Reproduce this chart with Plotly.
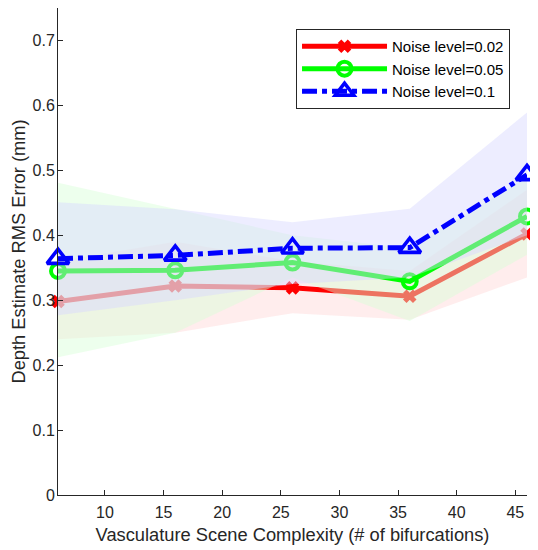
import plotly.graph_objects as go

# ---- data ----
bifurcations = [6, 16, 26, 36, 46]

rms_noise_002 = [0.298, 0.322, 0.319, 0.306, 0.402]
rms_noise_005 = [0.345, 0.346, 0.358, 0.329, 0.429]
rms_noise_010 = [0.364, 0.369, 0.380, 0.381, 0.493]

band_002_low = [0.24, 0.25, 0.28, 0.27, 0.335]
band_002_high = [0.36, 0.39, 0.36, 0.345, 0.47]
band_005_low = [0.212, 0.25, 0.335, 0.268, 0.37]
band_005_high = [0.481, 0.44, 0.40, 0.38, 0.49]
band_010_low = [0.277, 0.30, 0.325, 0.335, 0.40]
band_010_high = [0.451, 0.44, 0.420, 0.441, 0.589]

series_names = ["Noise level=0.02", "Noise level=0.05", "Noise level=0.1"]

x_ticks = [10, 15, 20, 25, 30, 35, 40, 45]
y_ticks = [0, 0.1, 0.2, 0.3, 0.4, 0.5, 0.6, 0.7]
y_tick_text = ["0", "0.1", "0.2", "0.3", "0.4", "0.5", "0.6", "0.7"]

FONT = "Liberation Sans, Arial, Helvetica, sans-serif"
INK = "#262626"

series = [
    dict(name=series_names[0], y=rms_noise_002, lo=band_002_low, hi=band_002_high,
         color="#ff0000", fill="rgba(255,215,215,0.45)", symbol="x-thin", size=10,
         mlw=5, dash="solid"),
    dict(name=series_names[1], y=rms_noise_005, lo=band_005_low, hi=band_005_high,
         color="#00ff00", fill="rgba(215,255,215,0.45)", symbol="circle-open", size=14,
         mlw=4, dash="solid"),
    dict(name=series_names[2], y=rms_noise_010, lo=band_010_low, hi=band_010_high,
         color="#0000ff", fill="rgba(215,215,255,0.45)", symbol="triangle-up-open", size=19,
         mlw=3.6, dash="15px,5px,5px,5px"),
]

fig = go.Figure()
for s in series:
    fig.add_trace(go.Scatter(
        x=bifurcations + bifurcations[::-1],
        y=s["hi"] + s["lo"][::-1],
        fill="toself", fillcolor=s["fill"], mode="lines",
        line=dict(width=0, color="rgba(0,0,0,0)"),
        hoverinfo="skip", showlegend=False,
    ))
    fig.add_trace(go.Scatter(
        x=bifurcations, y=s["y"], name=s["name"], mode="lines+markers",
        line=dict(color=s["color"], width=5, dash=s["dash"]),
        marker=dict(symbol=s["symbol"], size=s["size"], color=s["color"],
                    line=dict(color=s["color"], width=s["mlw"])),
        cliponaxis=False,
    ))

axis_common = dict(
    showline=True, linecolor=INK, linewidth=1, mirror=False,
    ticks="inside", ticklen=5, tickwidth=1, tickcolor=INK,
    showgrid=False, zeroline=False, automargin=False,
    tickfont=dict(family=FONT, size=16, color=INK),
)

# The page body adds an 8px offset; the figure size/margins compensate for it.
fig.update_layout(
    width=530, height=542,
    margin=dict(l=50, r=11, t=0, b=55, autoexpand=False),
    paper_bgcolor="white", plot_bgcolor="white",
    font=dict(family=FONT, color=INK),
    xaxis=dict(range=[6, 46], tickvals=x_ticks, ticklabelstandoff=3,
               title=dict(text="Vasculature Scene Complexity (# of bifurcations)",
                          font=dict(family=FONT, size=18.3, color=INK), standoff=7),
               **axis_common),
    yaxis=dict(range=[0, 0.75], tickvals=y_ticks, ticktext=y_tick_text,
               ticklabelstandoff=-1,
               title=dict(text="Depth Estimate RMS Error (mm)",
                          font=dict(family=FONT, size=18.3, color=INK), standoff=4),
               **axis_common),
    legend=dict(x=0.9638, xanchor="right", y=0.957, yanchor="top",
                bgcolor="white", bordercolor=INK, borderwidth=1,
                font=dict(family=FONT, size=15, color="black"),
                itemwidth=85, tracegroupgap=0),
    showlegend=True,
)

fig.write_html("out.html")
